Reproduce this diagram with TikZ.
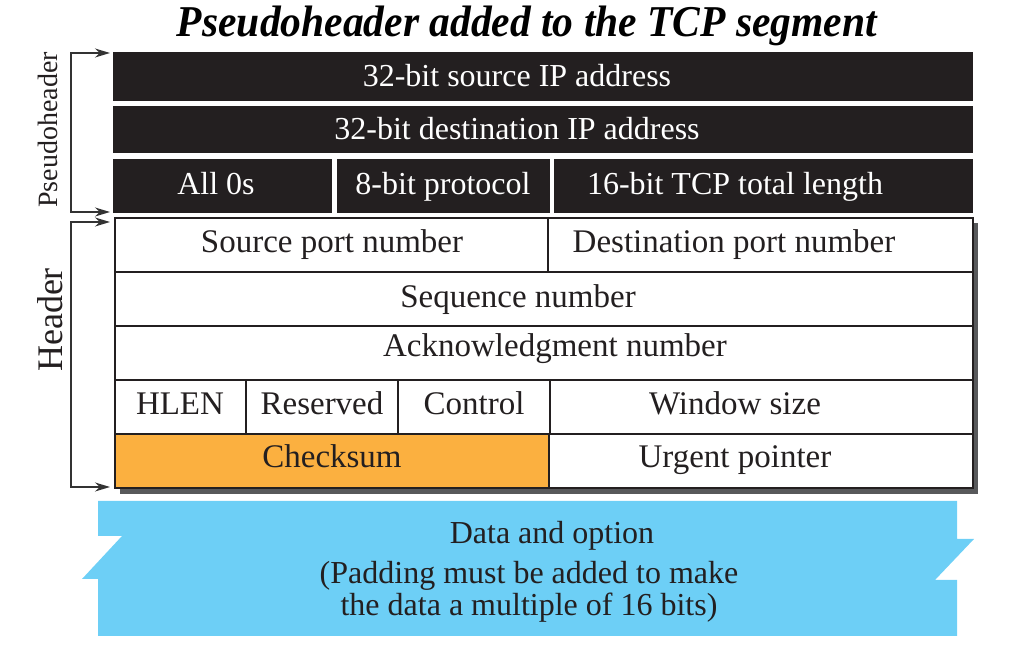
\documentclass[tikz,border=0pt]{standalone}
\usepackage{fontspec}
\setmainfont{Liberation Serif}
\usepackage{graphicx}
\usetikzlibrary{arrows.meta}
\definecolor{phblack}{HTML}{231F20}
\definecolor{chkorange}{HTML}{FBB040}
\definecolor{datablue}{HTML}{6DCFF6}
\definecolor{shadowgray}{HTML}{58595B}
\definecolor{linegray}{HTML}{333333}
\begin{document}
\begin{tikzpicture}[x=0.5pt,y=-0.5pt,
	phbox/.style={fill=phblack},
	hdbox/.style={draw=phblack,line width=0.8pt,fill=white},
	phtext/.style={text=white,anchor=base,inner sep=0pt,font=\fontsize{16}{19}\selectfont},
	hdtext/.style={text=phblack,anchor=base,inner sep=0pt,font=\fontsize{16.5}{20}\selectfont},
	bracket/.style={draw=linegray,line width=0.7pt,{Stealth[length=7.5pt,width=4.5pt]}-{Stealth[length=7.5pt,width=4.5pt]}}]
				\useasboundingbox (0,0) rectangle (1025,657);
				\coordinate (phtop) at (110,53);
				\coordinate (phbot) at (110,212);
				\coordinate (hdtop) at (110,222);
				\coordinate (hdbot) at (110,487);
				\node[anchor=base,font=\fontsize{22}{24}\selectfont\bfseries\itshape] (title) at (527,37) {\resizebox{350pt}{\height}{Pseudoheader added to the TCP segment}};
				\fill[phbox] (113,52) rectangle (973,101);
				\fill[phbox] (113,106) rectangle (973,153);
				\fill[phbox] (113,159) rectangle (332,213);
				\fill[phbox] (337,159) rectangle (550,213);
				\fill[phbox] (554,159) rectangle (973,213);
				\node[phtext] (srcip) at (517,87) {32-bit source IP address};
				\node[phtext] (dstip) at (517,140) {32-bit destination IP address};
				\node[phtext] (zeros) at (216,195) {All 0s};
				\node[phtext] (proto) at (443,195) {8-bit protocol};
				\node[phtext] (tcplen) at (735,195) {16-bit TCP total length};
				\fill[shadowgray] (120,223) rectangle (978,494);
				\filldraw[hdbox] (115,218) rectangle (548,272);
				\filldraw[hdbox] (548,218) rectangle (973,272);
				\filldraw[hdbox] (115,272) rectangle (973,326);
				\filldraw[hdbox] (115,326) rectangle (973,380);
				\filldraw[hdbox] (115,380) rectangle (246,434);
				\filldraw[hdbox] (246,380) rectangle (398,434);
				\filldraw[hdbox] (398,380) rectangle (550,434);
				\filldraw[hdbox] (550,380) rectangle (973,434);
				\filldraw[hdbox,fill=chkorange] (115,434) rectangle (549,488);
				\filldraw[hdbox] (549,434) rectangle (973,488);
				\node[hdtext] (srcport) at (332,253) {Source port number};
				\node[hdtext] (dstport) at (734,253) {Destination port number};
				\node[hdtext] (seq) at (518,308) {Sequence number};
				\node[hdtext] (ack) at (555,357) {Acknowledgment number};
				\node[hdtext] (hlen) at (180,415) {HLEN};
				\node[hdtext] (resv) at (322,415) {Reserved};
				\node[hdtext] (ctrl) at (474,415) {Control};
				\node[hdtext] (win) at (735,415) {Window size};
				\node[hdtext] (chk) at (332,468) {Checksum};
				\node[hdtext] (urg) at (735,468) {Urgent pointer};
				\fill[datablue] (98,501) -- (957,501) -- (957,539) -- (974,539) -- (935,580) -- (957,580) -- (957,636) -- (98,636) -- (98,579) -- (82,579) -- (122,536) -- (98,536) -- cycle;
				\node[text=phblack,anchor=base,font=\fontsize{16}{19}\selectfont] (data) at (552,544) {Data and option};
				\node[text=phblack,align=center,font=\fontsize{16}{13}\selectfont] (pad) at (529,592) {(Padding must be added to make\\the data a multiple of 16 bits)};
				\draw[bracket] (phtop) -- ++(-39,0) |- (phbot);
				\draw[bracket] (hdtop) -- ++(-39,0) |- (hdbot);
				\node[rotate=90,text=phblack,font=\fontsize{14}{16}\selectfont] (phlabel) at (48,130) {Pseudoheader};
				\node[rotate=90,text=phblack,font=\fontsize{18}{20}\selectfont] (hdlabel) at (50,320) {Header};
\end{tikzpicture}
\end{document}
